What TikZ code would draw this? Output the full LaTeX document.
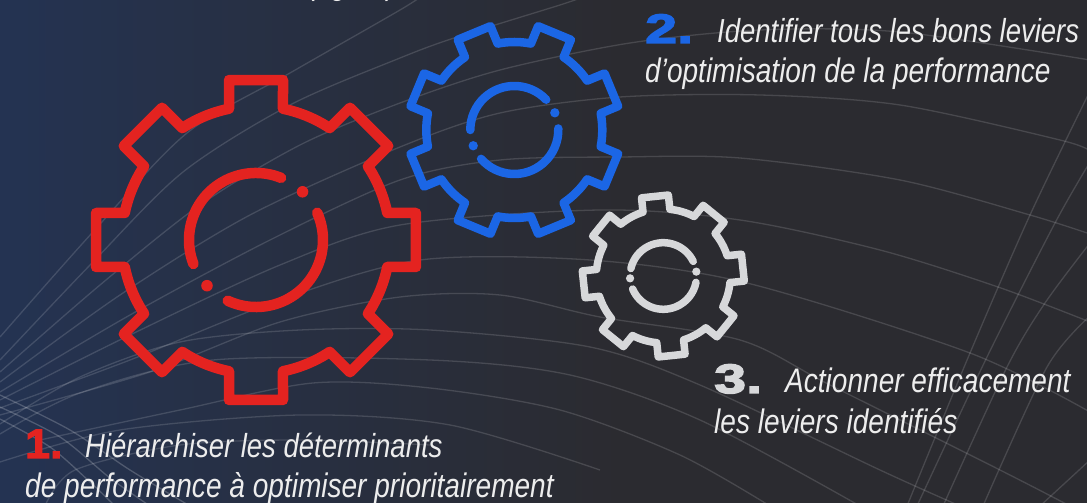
\documentclass[tikz,border=0pt]{standalone}
\usepackage{fontspec}
\usepackage{tikz}
\usetikzlibrary{positioning}
\newfontfamily\legendfont[FakeStretch=0.825]{Liberation Sans}
\newfontfamily\rankfont[FakeStretch=1.4,FakeBold=3.5]{Liberation Sans}
\definecolor{bgnavy}{HTML}{243352}
\definecolor{bgdark}{HTML}{2B2B30}
\definecolor{gearred}{HTML}{E42320}
\definecolor{gearblue}{HTML}{1B66E5}
\definecolor{geargrey}{HTML}{D7D8DA}
\definecolor{legendgrey}{HTML}{EDEDED}
\tikzset{bgline/.style={white,opacity=.14,line width=1.3pt},
         bghaze/.style={white,opacity=.2,line width=1.3pt},
         legend/.style={inner sep=0pt,anchor=base west,text=legendgrey,
           font=\legendfont\itshape\fontsize{34}{39}\selectfont},
         legendshort/.style={legend,
           font=\legendfont\itshape\fontsize{33.3}{39}\selectfont},
         rank/.style={inner sep=0pt,anchor=base west,
           font=\rankfont\bfseries\fontsize{41}{41}\selectfont},
         gearline/.style={line join=round,line cap=round}}
% centre x, y, rotation, tooth radius, rim radius, half tooth width
\newcommand{\gearwheel}[6]{%
  \pgfmathsetmacro{\gearstep}{45}
  \pgfmathsetmacro{\gearbase}{asin(#6/#5)}
  \pgfmathsetmacro{\gearopen}{atan(#6/#4)}
  \pgfmathsetmacro{\gearouter}{veclen(#4,#6)}
  \draw[gearline,shift={(#1,#2)}] (#3-\gearbase:#5)
    \foreach \k in {0,...,7} {
      \pgfextra{\pgfmathsetmacro{\a}{#3+\k*\gearstep}}
      -- (\a-\gearopen:\gearouter) -- (\a+\gearopen:\gearouter)
      -- (\a+\gearbase:#5)
      arc[start angle=\a+\gearbase,end angle=\a+\gearstep-\gearbase,radius=#5]
    } -- cycle;}
% centre x, y, radius, two arcs (from, to), two dots
\newcommand{\gearring}[9]{%
  \draw[gearline,shift={(#1,#2)}] (#4:#3) arc[start angle=#4,end angle=#5,radius=#3];
  \draw[gearline,shift={(#1,#2)}] (#6:#3) arc[start angle=#6,end angle=#7,radius=#3];
  \fill[shift={(#1,#2)}] (#8:#3) circle[radius=.55\pgflinewidth];
  \fill[shift={(#1,#2)}] (#9:#3) circle[radius=.55\pgflinewidth];}

\begin{document}
\begin{tikzpicture}[x=1pt,y=1pt]
  \useasboundingbox (0,0) rectangle (1087,503);
  \clip (0,0) rectangle (1087,503);
  \fill[bgdark] (0,0) rectangle (1087,503);
  \shade[left color=bgnavy,right color=bgdark] (0,0) rectangle (620,503);

  % background curves, read top to bottom (y counted from the top, hence yscale)
  \begin{scope}[yshift=503pt,yscale=-1]
    \draw[bgline] plot[smooth] coordinates {(0,337) (92,233) (187,133) (290,73) (400,10) (423,-5)};
    \draw[bgline] plot[smooth] coordinates {(0,360) (92,263) (183,172) (290,105) (400,58) (457,37) (560,5) (580,-2)};
    \draw[bgline] plot[smooth] coordinates {(0,372) (100,285) (200,205) (300,145) (400,103) (500,70) (630,43) (760,30) (900,32) (1090,60)};
    \draw[bgline] plot[smooth] coordinates {(0,382) (120,295) (250,215) (400,147) (500,113) (620,97) (760,95) (900,105) (1060,140) (1090,151)};
    \draw[bgline] plot[smooth] coordinates {(0,392) (130,315) (270,240) (400,180) (500,160) (620,157) (740,158) (900,180) (1030,215) (1090,234)};
    \draw[bgline] plot[smooth] coordinates {(0,400) (130,335) (280,265) (400,225) (600,210) (740,220) (880,250) (998,287) (1090,322)};
    \draw[bgline] plot[smooth] coordinates {(0,408) (130,360) (280,300) (420,260) (590,260) (747,283) (970,353) (1090,412)};
    \draw[bgline] plot[smooth] coordinates {(0,415) (150,372) (280,322) (400,297) (500,295) (600,317) (740,340) (830,385) (1000,470) (1070,506)};
    \draw[bgline] plot[smooth] coordinates {(0,424) (80,377) (180,342) (300,330) (430,330) (590,347) (700,385) (880,470) (960,506)};
    \draw[bgline] plot[smooth] coordinates {(0,434) (80,393) (213,360) (430,360) (570,375) (700,420) (860,506)};
    \draw[bgline] plot[smooth] coordinates {(40,440) (180,410) (313,383) (430,388) (560,410) (680,455) (770,506)};
    \draw[bgline] plot[smooth] coordinates {(1090,91) (1030,215) (970,353) (907,506)};
    \draw[bgline] plot[smooth] coordinates {(1090,162) (1055,223) (987,357) (917,506)};
    \draw[bgline] plot[smooth] coordinates {(1090,243) (1045,303) (1007,367) (943,506)};
    \draw[bgline] plot[smooth] coordinates {(1090,316) (1047,367) (983,506)};
    \draw[bgline] plot[smooth] coordinates {(1090,460) (1040,506)};
    \draw[bghaze] plot[smooth] coordinates {(0,395) (70,430) (130,470) (190,506)};
    \draw[bghaze] plot[smooth] coordinates {(0,407) (60,437) (110,478) (150,506)};
    \draw[bghaze] plot[smooth] coordinates {(0,419) (50,447) (90,482) (115,506)};
    \draw[bgline] plot[smooth] coordinates {(45,506) (75,470) (180,445) (300,440) (430,445)};
    \draw[bgline] plot[smooth] coordinates {(0,462) (120,430) (300,415) (450,425) (600,470)};
  \end{scope}

  % red gear
  \begin{scope}[gearred,line width=10.5pt]
    \gearwheel{256}{263}{0}{160}{134}{27}
    \gearring{256}{263}{67}{68}{201}{245}{384}{46}{223}
  \end{scope}
  % blue gear
  \begin{scope}[gearblue,line width=8.5pt]
    \gearwheel{514.3}{373}{22.5}{105}{88}{17.7}
    \gearring{514.3}{373}{44}{43.5}{180}{221}{362}{23}{201}
  \end{scope}
  % grey gear
  \begin{scope}[geargrey,line width=7.5pt]
    \gearwheel{663.3}{227}{6}{80}{67}{13.5}
    \gearring{663.3}{227}{33.3}{26}{167}{203}{349}{7.5}{184}
  \end{scope}

  % legends
  \node[rank,text=gearred,transform shape,xscale=.78] (rankone) at (25,45) {1.};
  \node[legendshort] (legendone) at (85,45) {Hiérarchiser les déterminants};
  \node[legend] (legendonebis) at (25,5) {de performance à optimiser prioritairement};
  \node[rank,text=gearblue] (ranktwo) at (645,460) {2.};
  \node[legendshort] (legendtwo) at (717,460) {Identifier tous les bons leviers};
  \node[legend] (legendtwobis) at (645,420) {d’optimisation de la performance};
  \node[rank,text=geargrey] (rankthree) at (714,110) {3.};
  \node[legend] (legendthree) at (785,110) {Actionner efficacement};
  \node[legend] (legendthreebis) at (714,69) {les leviers identifiés};
  \node[legend] (figurenote) at (308,508) {(figure)};
\end{tikzpicture}
\end{document}
